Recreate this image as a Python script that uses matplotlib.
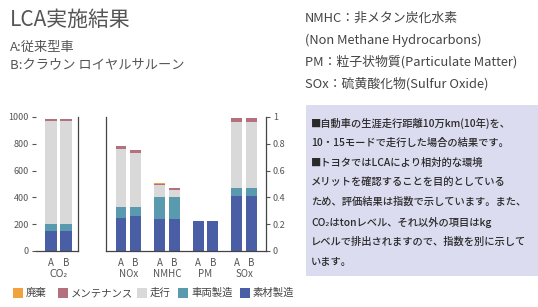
import matplotlib
matplotlib.use("Agg")
import matplotlib.pyplot as plt
from matplotlib.patches import Rectangle
import numpy as np

plt.rcParams['font.family'] = ['Noto Sans CJK JP', 'DejaVu Sans']

W, H = 538, 307

# ---- data ----
co2_labels = ["A", "B"]
co2_material = [150, 150]      # 素材製造
co2_vehicle = [55, 55]         # 車両製造
co2_running = [765, 765]       # 走行
co2_maint = [12, 12]           # メンテナンス
co2_disposal = [2, 2]          # 廃棄

groups = ["NOx", "NMHC", "PM", "SOx"]
idx_material = [[0.25, 0.26], [0.24, 0.24], [0.225, 0.225], [0.41, 0.41]]
idx_vehicle = [[0.08, 0.07], [0.16, 0.16], [0.0, 0.0], [0.06, 0.06]]
idx_running = [[0.43, 0.40], [0.09, 0.055], [0.0, 0.0], [0.49, 0.49]]
idx_maint = [[0.025, 0.025], [0.012, 0.012], [0.0, 0.0], [0.03, 0.03]]
idx_disposal = [[0.002, 0.002], [0.002, 0.002], [0.0, 0.0], [0.002, 0.002]]

left_ticks = [0, 200, 400, 600, 800, 1000]
right_ticks = [0, 0.2, 0.4, 0.6, 0.8, 1]
right_tick_labels = ["0", "0.2", "0.4", "0.6", "0.8", "1"]

legend_labels = ["廃棄", "メンテナンス", "走行", "車両製造", "素材製造"]
colors = {
    "disposal": "#f0a23c",
    "maint": "#b4707e",
    "running": "#d9d9d9",
    "vehicle": "#5a9aae",
    "material": "#4a5ea6",
}
legend_colors = [colors["disposal"], colors["maint"], colors["running"],
                 colors["vehicle"], colors["material"]]

fig = plt.figure(figsize=(W / 100, H / 100), dpi=100)
fig.patch.set_facecolor("white")


def px_axes(x0, y0, x1, y1):
    return fig.add_axes([x0 / W, 1 - y1 / H, (x1 - x0) / W, (y1 - y0) / H])


tick_color = "#555555"
spine_color = "#444444"

# ---- CO2 panel ----
ax1 = px_axes(36, 117, 78, 251)
pos1 = np.array([0, 1])
stack = [("material", co2_material), ("vehicle", co2_vehicle),
         ("running", co2_running), ("maint", co2_maint), ("disposal", co2_disposal)]
bottom = np.zeros(2)
for key, vals in stack:
    vals = np.array(vals, dtype=float)
    ax1.bar(pos1, vals, width=0.75, bottom=bottom, color=colors[key], linewidth=0)
    bottom += vals
ax1.set_xlim(-1.0, 1.8)
ax1.set_ylim(0, 1000)
ax1.set_yticks(left_ticks)
ax1.set_yticklabels([str(t) for t in left_ticks])
ax1.tick_params(axis="y", length=3, width=0.8, colors=tick_color, labelsize=6.5, pad=2)
ax1.set_xticks([])
for s in ["top", "left"]:
    ax1.spines[s].set_visible(False)
for s in ["right", "bottom"]:
    ax1.spines[s].set_color(spine_color)
    ax1.spines[s].set_linewidth(0.9)
ax1.patch.set_alpha(0)

# ---- index panel ----
ax2 = px_axes(106, 117, 266, 251)
gap = 2.65
bottoms = np.zeros((4, 2))
for key, arr in [("material", idx_material), ("vehicle", idx_vehicle),
                 ("running", idx_running), ("maint", idx_maint),
                 ("disposal", idx_disposal)]:
    arr = np.array(arr)
    for g in range(len(groups)):
        xs = g * gap + np.array([0, 1])
        ax2.bar(xs, arr[g], width=0.75, bottom=bottoms[g], color=colors[key], linewidth=0)
    bottoms += arr
ax2.set_xlim(-1.03, 3 * gap + 2.0)
ax2.set_ylim(0, 1)
ax2.yaxis.tick_right()
ax2.set_yticks(right_ticks)
ax2.set_yticklabels(right_tick_labels)
ax2.tick_params(axis="y", length=3, width=0.8, colors=tick_color, labelsize=6.5, pad=2)
ax2.set_xticks([])
ax2.spines["top"].set_visible(False)
for s in ["left", "right", "bottom"]:
    ax2.spines[s].set_color(spine_color)
    ax2.spines[s].set_linewidth(0.9)
ax2.patch.set_alpha(0)

# category labels
lab_kw = dict(ha="center", va="center", fontsize=7, color="#555555")
for i, l in enumerate(co2_labels):
    ax1.text(pos1[i], -0.09, l, transform=ax1.get_xaxis_transform(), **lab_kw)
ax1.text(0.5, -0.17, "CO₂", transform=ax1.get_xaxis_transform(),
         family=["DejaVu Sans"], **lab_kw)
for g, name in enumerate(groups):
    for j, l in enumerate(co2_labels):
        ax2.text(g * gap + j, -0.09, l, transform=ax2.get_xaxis_transform(), **lab_kw)
    ax2.text(g * gap + 0.5, -0.17, name, transform=ax2.get_xaxis_transform(), **lab_kw)

# ---- titles/notes ----
fig.text(10 / W, 1 - 20 / H, "LCA実施結果", fontsize=15, color="#555555",
         va="center", ha="left")
fig.text(10 / W, 1 - 47 / H, "A:従来型車", fontsize=9.5, color="#555555",
         va="center", ha="left")
fig.text(10 / W, 1 - 65 / H, "B:クラウン ロイヤルサルーン", fontsize=9.5, color="#555555",
         va="center", ha="left")

right_lines = ["NMHC：非メタン炭化水素", "(Non Methane Hydrocarbons)",
               "PM：粒子状物質(Particulate Matter)", "SOx：硫黄酸化物(Sulfur Oxide)"]
for i, t in enumerate(right_lines):
    fig.text(305 / W, 1 - (18 + 22 * i) / H, t, fontsize=9.3, color="#444444",
             va="center", ha="left")

# note box
fig.patches.append(Rectangle((306 / W, 1 - 276 / H), (538 - 306) / W, (276 - 105) / H,
                             transform=fig.transFigure, facecolor="#dcdcf0",
                             edgecolor="none", zorder=0))
box_lines = ["■自動車の生涯走行距離10万km(10年)を、",
             "10・15モードで走行した場合の結果です。",
             "■トヨタではLCAにより相対的な環境",
             "メリットを確認することを目的としている",
             "ため、評価結果は指数で示しています。また、",
             "CO₂はtonレベル、それ以外の項目はkg",
             "レベルで排出されますので、指数を別に示して",
             "います。"]
for i, t in enumerate(box_lines):
    fig.text(311 / W, 1 - (123 + 19.8 * i) / H, t, fontsize=7.4, color="#2a2a2a",
             va="center", ha="left", weight="medium",
             family=["Noto Sans CJK JP", "DejaVu Sans"])

# legend
leg_x = [13, 58, 137, 178, 240]
for x, c, l in zip(leg_x, legend_colors, legend_labels):
    fig.patches.append(Rectangle((x / W, 1 - 298 / H), 10 / W, 10 / H,
                                 transform=fig.transFigure, facecolor=c,
                                 edgecolor="none"))
    fig.text((x + 13) / W, 1 - 293 / H, l, fontsize=7.5, color="#444444",
             va="center", ha="left")

fig.savefig("out.png", dpi=100)
